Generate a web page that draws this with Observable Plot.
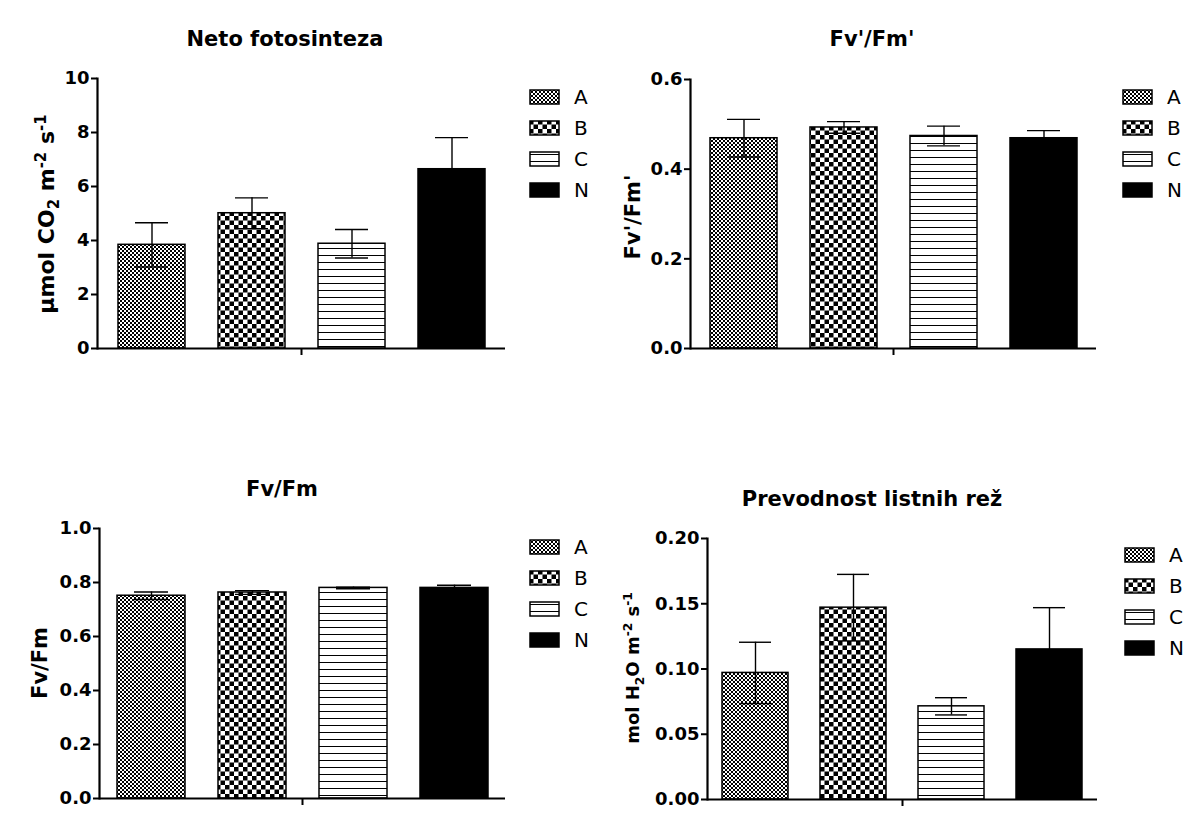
<!DOCTYPE html>
<html>
<head>
<meta charset="utf-8">
<script src="https://cdn.jsdelivr.net/npm/d3@7"></script>
<script src="https://cdn.jsdelivr.net/npm/@observablehq/plot@0.6"></script>
<style>
  body { margin: 0; background: #fff; }
  #page { position: relative; width: 1189px; height: 814px; overflow: hidden;
          font-family: "DejaVu Sans", sans-serif; color: #000; background: #fff; }
  .chart { position: absolute; }
  .title { position: absolute; font-weight: bold; font-size: 21px; line-height: 1;
           transform: translateX(-50%); white-space: nowrap; }
  .ylab { position: absolute; font-weight: bold; white-space: nowrap; line-height: 1;
          transform: translate(-50%, -50%) rotate(-90deg); }
  .ylab sub, .ylab sup { font-size: 68%; line-height: 0; }
  .legend { position: absolute; }
  .item { display: flex; align-items: center; height: 31px; }
  .item svg { display: block; }
  .item span { font-size: 20px; margin-left: 14px; line-height: 1; }
</style>
</head>
<body>
<svg width="0" height="0" style="position:absolute">
  <defs>
    <pattern id="patA" width="4" height="4" patternUnits="userSpaceOnUse">
      <rect width="4" height="4" fill="#fff"/>
      <rect width="2" height="2" fill="#000"/>
      <rect x="2" y="2" width="2" height="2" fill="#000"/>
    </pattern>
    <pattern id="patB" width="9" height="9" patternUnits="userSpaceOnUse">
      <rect width="9" height="9" fill="#fff"/>
      <rect width="4.5" height="4.5" fill="#000"/>
      <rect x="4.5" y="4.5" width="4.5" height="4.5" fill="#000"/>
    </pattern>
    <pattern id="patC" width="7" height="7" patternUnits="userSpaceOnUse">
      <rect width="7" height="7" fill="#fff"/>
      <rect y="3" width="7" height="1" fill="#000"/>
    </pattern>
  </defs>
</svg>
<div id="page"></div>
<script>
// Treatments
const groups = ["A", "B", "C", "N"];

// Net photosynthesis (µmol CO2 m-2 s-1): mean and SEM
const netoMean = [3.84, 5.01, 3.88, 6.64];
const netoSem  = [0.82, 0.57, 0.53, 1.17];

// Fv'/Fm'
const fvfmPrimeMean = [0.469, 0.493, 0.474, 0.469];
const fvfmPrimeSem  = [0.042, 0.013, 0.022, 0.017];

// Fv/Fm
const fvfmMean = [0.751, 0.763, 0.780, 0.780];
const fvfmSem  = [0.014, 0.007, 0.003, 0.010];

// Stomatal conductance (mol H2O m-2 s-1)
const gsMean = [0.097, 0.147, 0.0714, 0.115];
const gsSem  = [0.0235, 0.0255, 0.0066, 0.032];

// Tick values per panel
const netoTicks = [0, 2, 4, 6, 8, 10];
const fvfmPrimeTicks = [0, 0.2, 0.4, 0.6];
const fvfmTicks = [0, 0.2, 0.4, 0.6, 0.8, 1.0];
const gsTicks = [0, 0.05, 0.10, 0.15, 0.20];

const fills = {A: "url(#patA)", B: "url(#patB)", C: "url(#patC)", N: "black"};

const page = document.getElementById("page");

function barPanel(cfg) {
  const rows = groups.map((g, i) => ({group: g, mean: cfg.mean[i], sem: cfg.sem[i]}));
  const one = () => "all";
  const svg = Plot.plot({
    width: cfg.width,
    height: cfg.height,
    marginTop: cfg.mt,
    marginBottom: cfg.mb,
    marginLeft: cfg.ml,
    marginRight: cfg.mr,
    style: {fontFamily: "DejaVu Sans", fontSize: "18px", color: "black", background: "transparent", overflow: "visible"},
    x: {domain: groups, paddingInner: 0.33, paddingOuter: cfg.outer, axis: null},
    y: {domain: [cfg.ticks[0], cfg.ticks[cfg.ticks.length - 1]], axis: null},
    fx: {padding: 0},
    color: {type: "identity"},
    marks: [
      Plot.barY(rows, {fx: one, x: "group", y: "mean", fill: d => fills[d.group], stroke: "black", strokeWidth: 1.5}),
      Plot.ruleX(rows, {fx: one, x: "group", y1: d => d.mean - d.sem, y2: d => d.mean + d.sem, stroke: "black", strokeWidth: 1.4}),
      Plot.tickY(rows, {fx: one, x: "group", y: d => d.mean + d.sem, inset: 17, stroke: "black", strokeWidth: 1.4}),
      Plot.tickY(rows, {fx: one, x: "group", y: d => d.mean - d.sem, inset: 17, stroke: "black", strokeWidth: 1.4}),
      Plot.ruleY([0], {stroke: "black", strokeWidth: 2.2}),
      Plot.frame({anchor: "left", stroke: "black", strokeWidth: 2.2}),
      Plot.axisY({ticks: cfg.ticks, tickFormat: cfg.fmt, tickSize: 6, tickPadding: 2, strokeWidth: 2,
                  fontSize: 18, fontWeight: "bold", label: null}),
      Plot.axisFx({anchor: "bottom", tickSize: 7, tickFormat: () => "", strokeWidth: 2, label: null})
    ]
  });
  svg.classList.add("chart");
  svg.style.left = cfg.left + "px";
  svg.style.top = cfg.top + "px";
  page.appendChild(svg);

  const t = document.createElement("div");
  t.className = "title";
  t.textContent = cfg.title;
  t.style.left = cfg.titleX + "px";
  t.style.top = cfg.titleY + "px";
  page.appendChild(t);

  const yl = document.createElement("div");
  yl.className = "ylab";
  yl.innerHTML = cfg.ylabel;
  yl.style.fontSize = cfg.ylabelSize + "px";
  yl.style.left = cfg.ylabX + "px";
  yl.style.top = cfg.ylabY + "px";
  page.appendChild(yl);

  const lg = document.createElement("div");
  lg.className = "legend";
  lg.style.left = cfg.legX + "px";
  lg.style.top = cfg.legY + "px";
  for (const g of groups) {
    const it = document.createElement("div");
    it.className = "item";
    it.innerHTML = `<svg width="31" height="16"><rect x="1" y="1" width="29" height="14" fill="${fills[g]}" stroke="black" stroke-width="1.5"/></svg><span>${g}</span>`;
    lg.appendChild(it);
  }
  page.appendChild(lg);
}

barPanel({
  mean: netoMean, sem: netoSem, ticks: netoTicks, fmt: d3.format("d"),
  left: 0, top: 0, width: 595, height: 370, mt: 78, mb: 22, ml: 97, mr: 90, outer: 0.19,
  title: "Neto fotosinteza", titleX: 285, titleY: 29,
  ylabel: "μmol CO<sub>2</sub> m<sup>-2</sup> s<sup>-1</sup>", ylabelSize: 22, ylabX: 47, ylabY: 214,
  legX: 529, legY: 81
});

barPanel({
  mean: fvfmPrimeMean, sem: fvfmPrimeSem, ticks: fvfmPrimeTicks, fmt: d3.format(".1f"),
  left: 595, top: 0, width: 594, height: 370, mt: 79, mb: 22, ml: 95, mr: 93, outer: 0.19,
  title: "Fv'/Fm'", titleX: 872, titleY: 29,
  ylabel: "Fv'/Fm'", ylabelSize: 21, ylabX: 633, ylabY: 217,
  legX: 1122, legY: 81
});

barPanel({
  mean: fvfmMean, sem: fvfmSem, ticks: fvfmTicks, fmt: d3.format(".1f"),
  left: 0, top: 407, width: 595, height: 407, mt: 121, mb: 16, ml: 99, mr: 90, outer: 0.17,
  title: "Fv/Fm", titleX: 282, titleY: 479,
  ylabel: "Fv/Fm", ylabelSize: 21, ylabX: 40, ylabY: 663,
  legX: 529, legY: 531
});

barPanel({
  mean: gsMean, sem: gsSem, ticks: gsTicks, fmt: d3.format(".2f"),
  left: 595, top: 407, width: 594, height: 407, mt: 131, mb: 15, ml: 112, mr: 92, outer: 0.15,
  title: "Prevodnost listnih rež", titleX: 872, titleY: 489,
  ylabel: "mol H<sub>2</sub>O m<sup>-2</sup> s<sup>-1</sup>", ylabelSize: 18, ylabX: 633, ylabY: 668,
  legX: 1124, legY: 539
});
</script>
</body>
</html>
